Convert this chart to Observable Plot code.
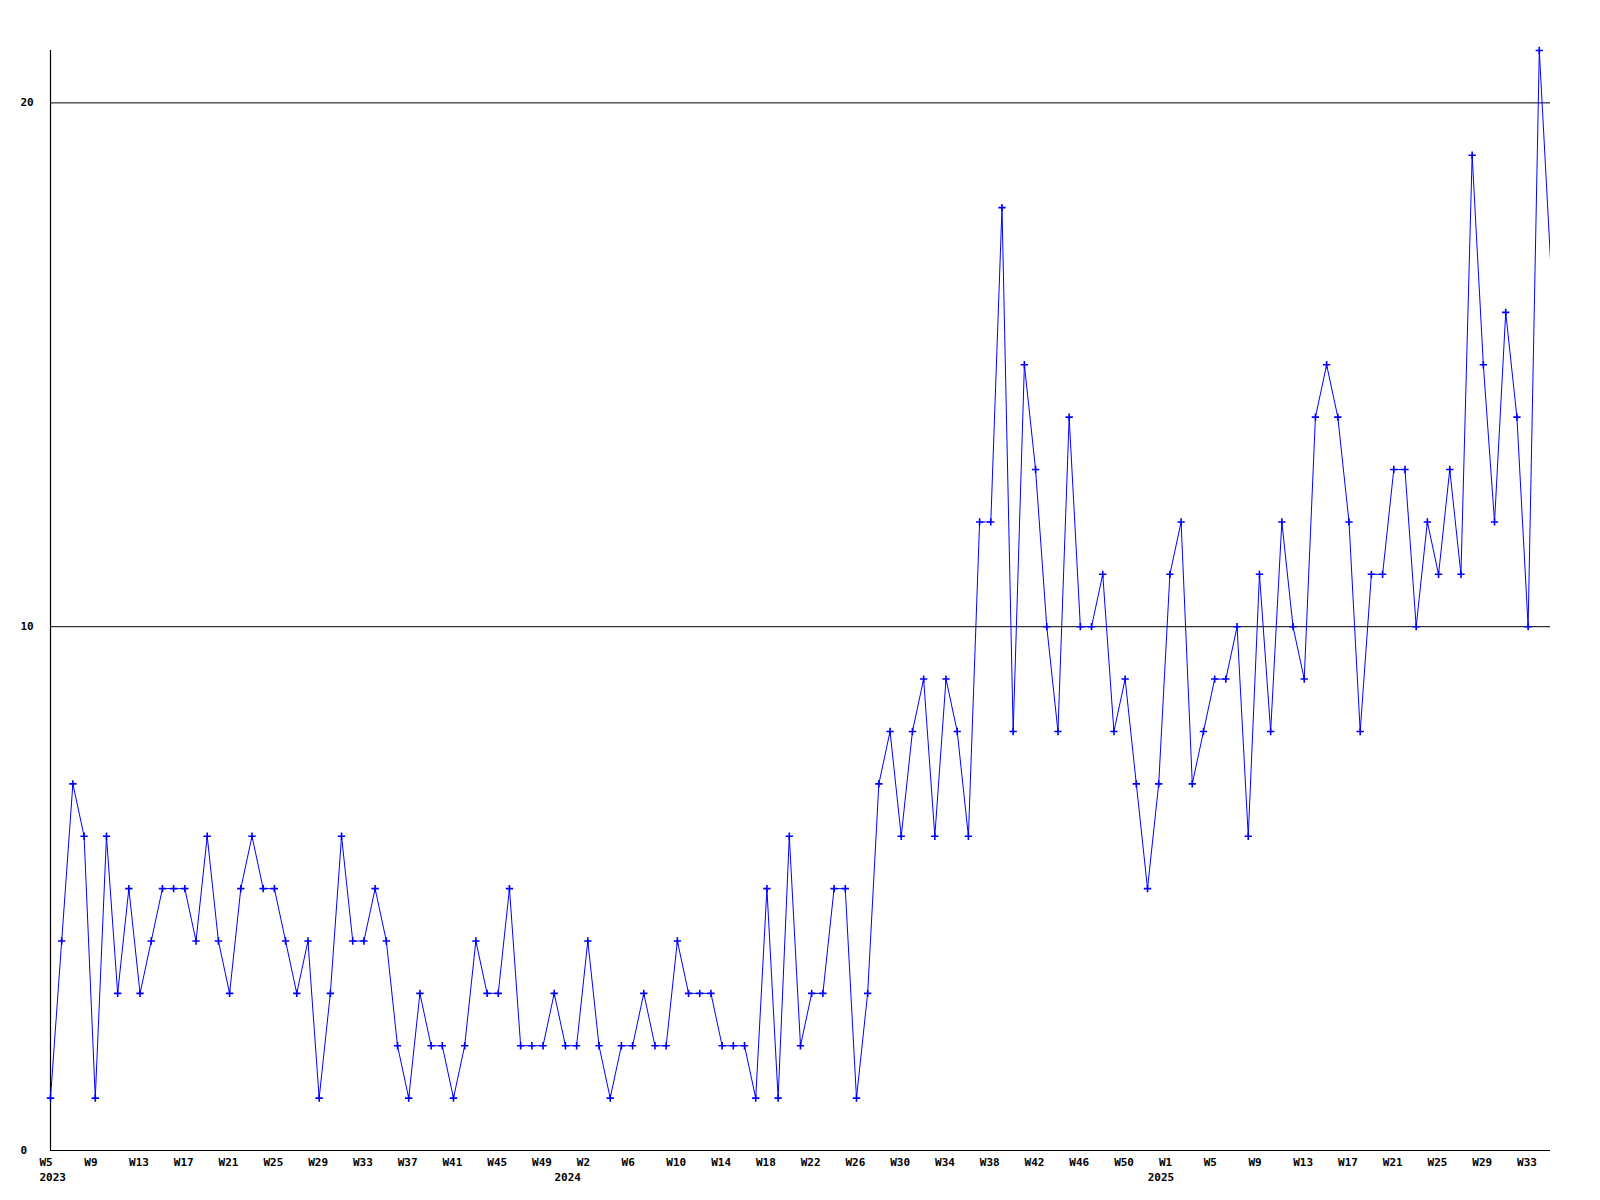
<!DOCTYPE html>
<html>
<head>
<meta charset="utf-8">
<script src="https://cdn.jsdelivr.net/npm/d3@7"></script>
<script src="https://cdn.jsdelivr.net/npm/@observablehq/plot@0.6"></script>
<style>
  html, body { margin: 0; padding: 0; background: #ffffff; }
  #chart svg { display: block; }
</style>
</head>
<body>
<div id="chart"></div>
<script>
// Weekly counts, from 2023 W5 onward (one value per week)
const values2023 = [1,4,7,6,1,6,3,5,3,4,5,5,5,4,6,4,3,5,6,5,5,4,3,4,1,3,6,4,4,5,4,2,1,3,2,2,1,2,4,3,3,5,2,2,2,3,2];
const values2024 = [2,4,2,1,2,2,3,2,2,4,3,3,3,2,2,2,1,5,1,6,2,3,3,5,5,1,3,7,8,6,8,9,6,9,8,6,12,12,18,8,15,13,10,8,14,10,10,11,8,9,7,5,7];
const values2025 = [11,12,7,8,9,9,10,6,11,8,12,10,9,14,15,14,12,8,11,11,13,13,10,12,11,13,11,19,15,12,16,14,10,21,17];

// Week tick labels (one every 4 weeks, starting at the first week)
const tickLabels = [
  "W5","W9","W13","W17","W21","W25","W29","W33","W37","W41","W45","W49",
  "W2","W6","W10","W14","W18","W22","W26","W30","W34","W38","W42","W46","W50",
  "W1","W5","W9","W13","W17","W21","W25","W29","W33"
];
const tickStep = 4;

// Year labels and the week index at which each one is printed
const yearLabels = ["2023", "2024", "2025"];
const yearWeekIndex = [0, 46, 99];

const yTicks = [0, 10, 20];
const gridValues = [10, 20];

// Build tables
const values = [...values2023, ...values2024, ...values2025];
const data = values.map((v, i) => ({i, v}));
const ticks = tickLabels.map((_, k) => k * tickStep);
const tickText = new Map(ticks.map((t, k) => [t, tickLabels[k]]));
const years = yearLabels.map((y, k) => ({i: yearWeekIndex[k], label: y}));

const font = "'DejaVu Sans Mono', 'Liberation Mono', monospace";
const blue = "#0000ff";

const chart = Plot.plot({
  width: 1600,
  height: 1200,
  marginLeft: 50,
  marginRight: 50,
  marginTop: 50,
  marginBottom: 50,
  style: {fontFamily: font, fontSize: "11px", fontWeight: "bold", background: "#ffffff", color: "#000000"},
  x: {domain: [0, values.length - 1]},
  y: {domain: [0, 21]},
  marks: [
    Plot.ruleY(gridValues, {stroke: "#000000", strokeWidth: 1}),
    Plot.ruleY([0], {stroke: "#000000", strokeWidth: 1.2}),
    Plot.ruleX([0], {stroke: "#000000", strokeWidth: 1.2}),
    Plot.line(data, {x: "i", y: "v", stroke: blue, strokeWidth: 1, clip: true}),
    Plot.dot(data.slice(0, -1), {x: "i", y: "v", symbol: "plus", r: 2.5, stroke: blue, strokeWidth: 1.6}),
    Plot.axisX({
      ticks,
      tickFormat: (d) => tickText.get(d),
      tickSize: 0,
      tickPadding: 8,
      textAnchor: "start",
      dx: -11,
      label: null,
      fontWeight: "bold"
    }),
    Plot.text(years, {
      x: "i",
      text: "label",
      frameAnchor: "bottom",
      lineAnchor: "top",
      textAnchor: "start",
      dx: -11,
      dy: 23,
      fill: "#000000"
    }),
    Plot.axisY({
      ticks: yTicks,
      tickSize: 0,
      tickPadding: 30,
      textAnchor: "start",
      label: null
    })
  ]
});

document.getElementById("chart").appendChild(chart);
</script>
</body>
</html>
